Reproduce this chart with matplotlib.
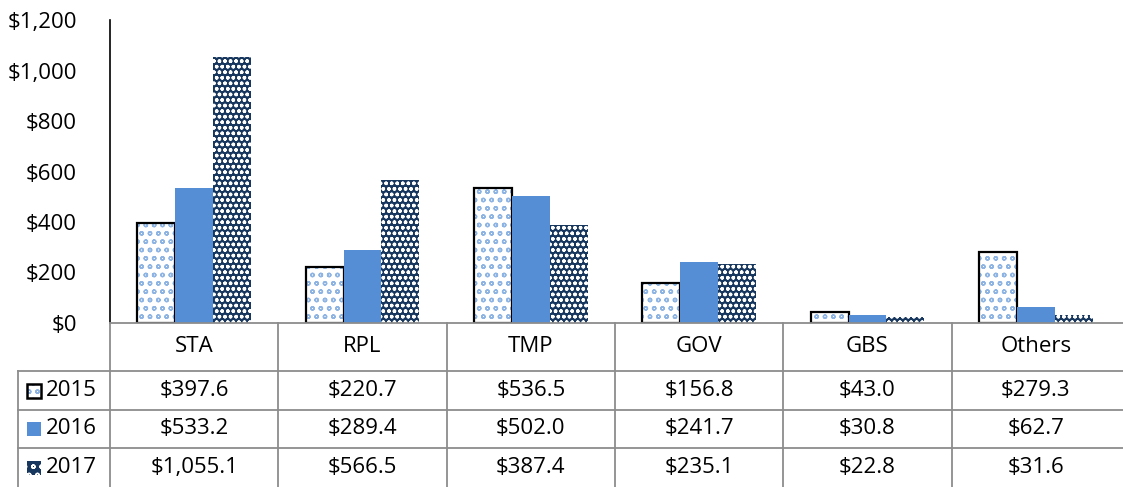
import matplotlib
matplotlib.use("Agg")
import matplotlib.pyplot as plt
from matplotlib.patches import Rectangle
from matplotlib.ticker import FuncFormatter

# data
categories = ["STA", "RPL", "TMP", "GOV", "GBS", "Others"]
years = ["2015", "2016", "2017"]
v2015 = [397.6, 220.7, 536.5, 156.8, 43.0, 279.3]
v2016 = [533.2, 289.4, 502.0, 241.7, 30.8, 62.7]
v2017 = [1055.1, 566.5, 387.4, 235.1, 22.8, 31.6]
series = [v2015, v2016, v2017]

LIGHT = "#8db4e2"
BLUE = "#558ed5"
NAVY = "#17375e"
GRID = "#8c8c8c"
FONT = "Open Sans"
TFS = 16  # table font size

W, H = 1123, 487
plt.rcParams["font.family"] = [FONT, "DejaVu Sans"]
plt.rcParams["hatch.linewidth"] = 1.0

fig = plt.figure(figsize=(W / 100, H / 100), dpi=100)
ax = fig.add_axes([110 / W, (H - 323) / H, 1010 / W, 303 / H])

bw = 0.225
offs = [-bw, 0, bw]
x = list(range(len(categories)))


def style_bars(ax, xs, vals, k):
    if k == 0:
        ax.bar(xs, vals, bw, color="white", edgecolor=LIGHT, hatch="oo", linewidth=0)
        ax.bar(xs, vals, bw, fill=False, edgecolor="black", linewidth=1.6)
    elif k == 1:
        ax.bar(xs, vals, bw, color=BLUE, linewidth=0)
    else:
        ax.bar(xs, vals, bw, color=NAVY, edgecolor="white", hatch="ooo", linewidth=0)


for k, vals in enumerate(series):
    style_bars(ax, [i + offs[k] for i in x], vals, k)

ax.set_xlim(-0.5, 5.5)
ax.set_ylim(0, 1200)
ax.set_yticks(range(0, 1201, 200))
ax.yaxis.set_major_formatter(FuncFormatter(lambda v, p: f"${v:,.0f}"))
ax.tick_params(axis="y", length=0, pad=24, labelsize=16)
ax.set_xticks([])
for s in ["top", "right", "bottom"]:
    ax.spines[s].set_visible(False)
ax.spines["left"].set_color("black")
ax.spines["left"].set_linewidth(1.2)

# data table underneath
tx = fig.add_axes([110 / W, 0, 1013 / W, 164 / H])
tx.set_xlim(-0.5, 5.5 + 3 / 168.3)
tx.set_ylim(164, 0)
tx.axis("off")
px = 1 / 168.3  # one pixel in category units
left = -0.5 - 92 * px
rows = [0, 48, 87, 125, 164]
kw = dict(color=GRID, lw=1.3, clip_on=False)

tx.plot([-0.5, 5.6], [0, 0], **kw)
for r in rows[1:-1]:
    tx.plot([left, 5.6], [r, r], **kw)
tx.plot([left, left], [rows[1], rows[-1]], **kw)
for i in range(len(categories)):
    tx.plot([i - 0.5, i - 0.5], [0, 164], **kw)

for i, c in enumerate(categories):
    tx.text(i, 24, c, ha="center", va="center", fontsize=TFS)
    for k, vals in enumerate(series):
        yc = (rows[k + 1] + rows[k + 2]) / 2
        tx.text(i, yc, f"${vals[i]:,.1f}", ha="center", va="center", fontsize=TFS)

# legend keys + year labels
for k, yr in enumerate(years):
    yc = (rows[k + 1] + rows[k + 2]) / 2
    kx = left + 9 * px
    kwid, kh = 14 * px, 14
    if k == 0:
        tx.add_patch(Rectangle((kx, yc - kh / 2), kwid, kh, facecolor="white",
                               edgecolor=LIGHT, hatch="oo", lw=0, clip_on=False))
        tx.add_patch(Rectangle((kx, yc - kh / 2), kwid, kh, fill=False,
                               edgecolor="black", lw=1.8, clip_on=False))
    elif k == 1:
        tx.add_patch(Rectangle((kx, yc - kh / 2), kwid, kh, facecolor=BLUE,
                               lw=0, clip_on=False))
    else:
        tx.add_patch(Rectangle((kx, yc - kh / 2), kwid, kh, facecolor=NAVY,
                               edgecolor="white", hatch="oo", lw=0, clip_on=False))
    tx.text(kx + kwid + 5 * px, yc, yr, ha="left", va="center", fontsize=TFS,
            clip_on=False)

fig.savefig("out.png", dpi=100)
